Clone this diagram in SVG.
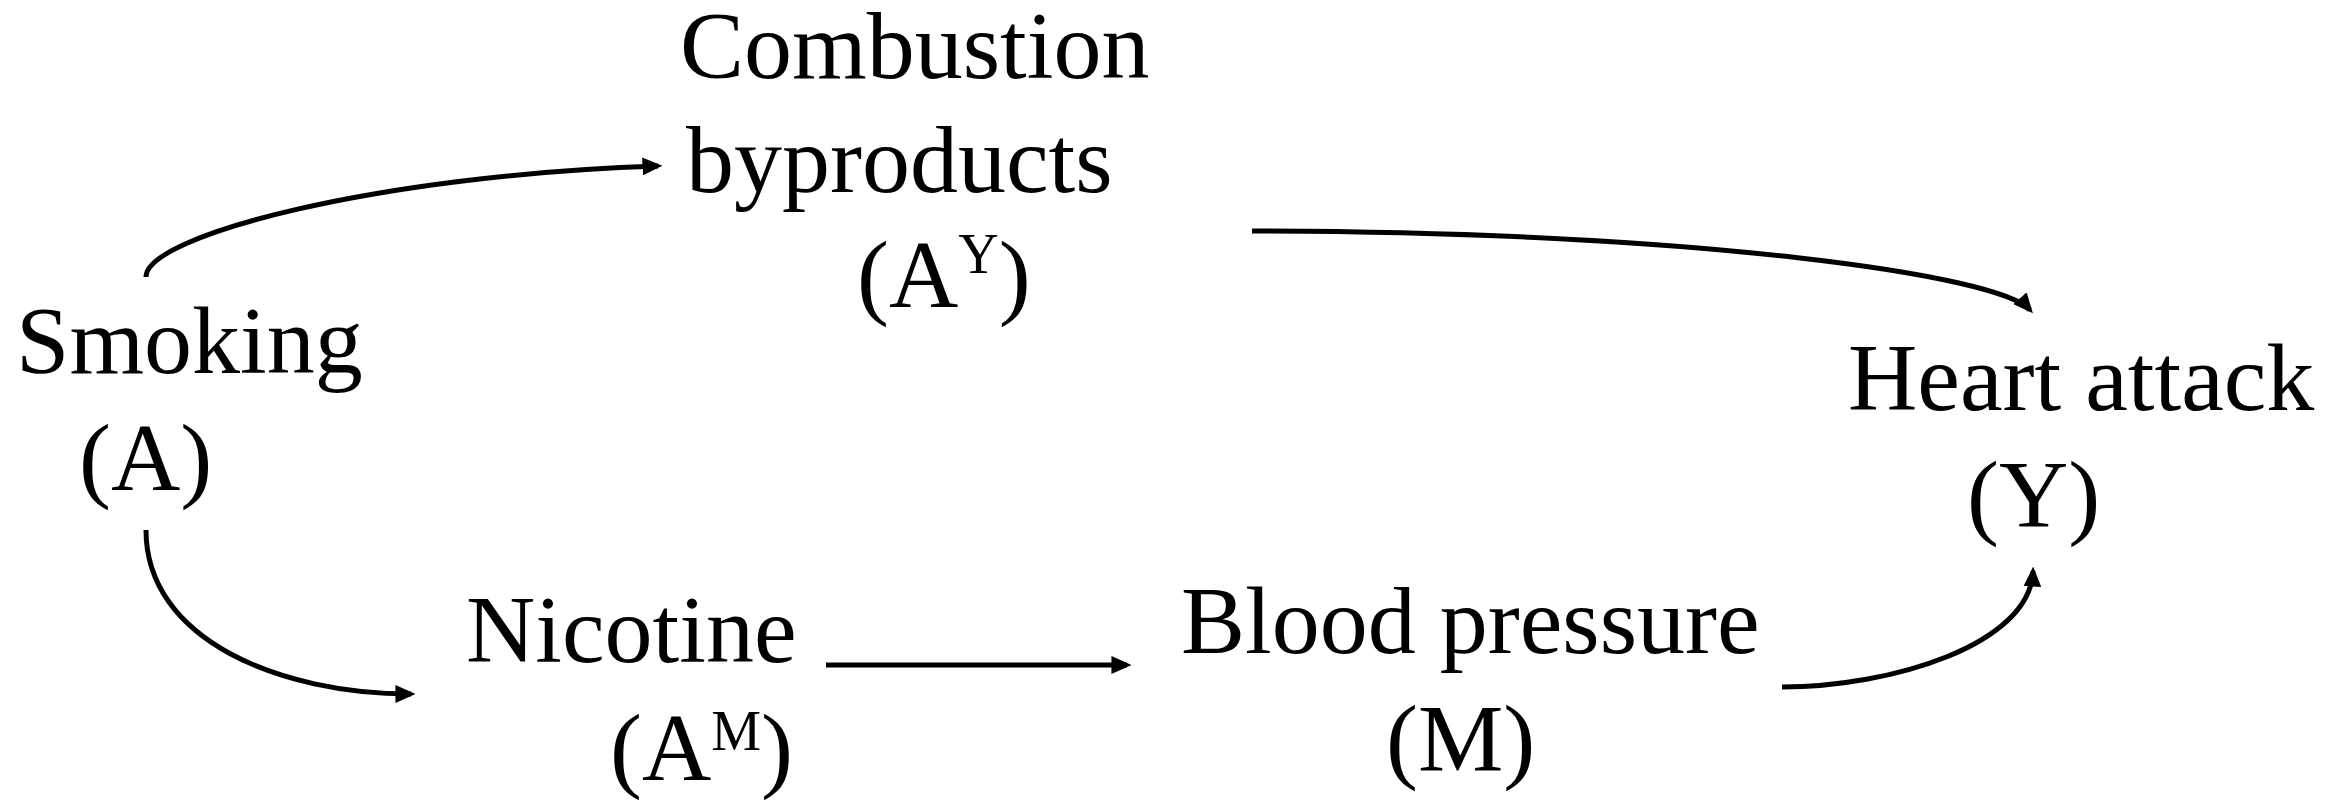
<svg xmlns="http://www.w3.org/2000/svg" width="2341" height="800" viewBox="0 0 2341 800">
<style>
text{font-family:"Liberation Serif","Times New Roman",serif;font-size:96px;fill:#000}
.sup{font-size:56px}
.edge{fill:none;stroke:#000;stroke-width:5;marker-end:url(#ah)}
</style>
<defs>
<marker id="ah" markerUnits="userSpaceOnUse" markerWidth="20" markerHeight="18" refX="14" refY="8" orient="auto" viewBox="0 0 18 16">
<path d="M0,0 L18,8 L0,16 z" fill="#000"/>
</marker>
</defs>
<rect width="2341" height="800" fill="#fff"/>
<g id="edges">
<path class="edge" d="M146,277 C146,235 380,175 658,166"/>
<path class="edge" d="M146,530 C146,640 280,694 411,694"/>
<path class="edge" d="M826,665 L1127,665"/>
<path class="edge" d="M1782,687 C1890,687 2030,645 2033,571"/>
<path class="edge" d="M1252,231 C1700,232 2000,275 2030,310"/>
</g>
<g id="node-A">
<text x="16" y="373">Smoking</text>
<text x="79" y="490">(A)</text>
</g>
<g id="node-AY">
<text x="680" y="78">Combustion</text>
<text x="686" y="192">byproducts</text>
<text x="857" y="307">(A<tspan class="sup" dy="-34">Y</tspan><tspan dy="34">)</tspan></text>
</g>
<g id="node-AM">
<text x="466" y="662">Nicotine</text>
<text x="610" y="780">(A<tspan class="sup" dy="-30">M</tspan><tspan dy="30">)</tspan></text>
</g>
<g id="node-M">
<text x="1181" y="653">Blood pressure</text>
<text x="1386" y="771">(M)</text>
</g>
<g id="node-Y">
<text x="1848" y="410">Heart attack</text>
<text x="1967" y="527">(Y)</text>
</g>
</svg>
